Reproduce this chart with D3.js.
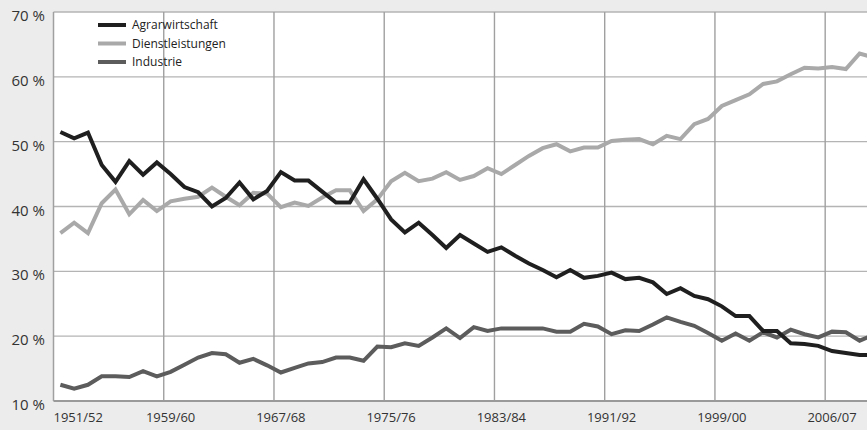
<!DOCTYPE html>
<html>
<head>
<meta charset="utf-8">
<script src="https://cdn.jsdelivr.net/npm/d3@7"></script>
<style>
  body { margin: 0; background: #ececec; }
  svg { display: block; font-family: "Open Sans", sans-serif; }
  .tick-y { font-size: 15px; fill: #333; }
  .tick-x { font-size: 13px; fill: #333; }
  .legend text { font-size: 12px; fill: #222; }
</style>
</head>
<body>
<svg id="chart"></svg>
<script>
// shares in percent, one value per year from 1951/52 on
var agrar = [51.5, 50.5, 51.4, 46.4, 43.8, 47.0, 44.9, 46.8, 45.0, 43.0,
             42.2, 40.0, 41.3, 43.7, 41.1, 42.4, 45.3, 44.0, 44.0, 42.3,
             40.6, 40.6, 44.2, 41.2, 38.0, 36.0, 37.5, 35.6, 33.6, 35.6,
             34.3, 33.0, 33.7, 32.4, 31.2, 30.2, 29.1, 30.2, 29.0, 29.3,
             29.8, 28.8, 29.0, 28.3, 26.5, 27.4, 26.2, 25.7, 24.6, 23.1,
             23.1, 20.8, 20.8, 18.9, 18.8, 18.5, 17.7, 17.4, 17.1, 17.1];
var dienst = [35.9, 37.5, 35.9, 40.5, 42.6, 38.8, 41.0, 39.3, 40.8, 41.2,
              41.5, 42.9, 41.5, 40.2, 42.1, 42.0, 39.9, 40.6, 40.1, 41.4,
              42.5, 42.5, 39.3, 41.1, 43.9, 45.2, 43.9, 44.3, 45.3, 44.1,
              44.7, 45.9, 45.0, 46.4, 47.8, 49.0, 49.6, 48.5, 49.1, 49.1,
              50.1, 50.3, 50.4, 49.6, 50.9, 50.4, 52.7, 53.5, 55.5, 56.4,
              57.3, 58.9, 59.3, 60.4, 61.4, 61.3, 61.5, 61.2, 63.6, 63.0];
var industrie = [12.5, 11.9, 12.5, 13.8, 13.8, 13.7, 14.6, 13.8, 14.5, 15.6,
                 16.7, 17.4, 17.2, 15.9, 16.5, 15.5, 14.4, 15.1, 15.8, 16.0,
                 16.7, 16.7, 16.2, 18.4, 18.3, 18.9, 18.5, 19.8, 21.2, 19.7,
                 21.4, 20.8, 21.2, 21.2, 21.2, 21.2, 20.7, 20.7, 21.9, 21.5,
                 20.3, 20.9, 20.8, 21.8, 22.9, 22.2, 21.6, 20.5, 19.3, 20.4,
                 19.3, 20.6, 19.8, 21.0, 20.3, 19.8, 20.7, 20.6, 19.3, 20.2];

var seriesNames = ['Agrarwirtschaft', 'Dienstleistungen', 'Industrie'];
var seriesColors = ['#1f1f1f', '#a9a9a9', '#5c5c5c'];
var tickLabels = ['1951/52', '1959/60', '1967/68', '1975/76', '1983/84', '1991/92', '1999/00', '2006/07'];
var tickEvery = 8;
var yTicks = [10, 20, 30, 40, 50, 60, 70];

var width = 867, height = 430;
var margin = {top: 12, left: 53.5, bottom: 29};
var step = 13.78;
var n = agrar.length;

var svg = d3.select('#chart').attr('width', width).attr('height', height);

svg.append('rect').attr('width', width).attr('height', height).attr('fill', '#ececec');

var x = d3.scaleBand()
    .domain(d3.range(n))
    .range([margin.left, margin.left + n * step])
    .padding(0);

var y = d3.scaleLinear()
    .domain([10, 70])
    .range([height - margin.bottom, margin.top]);

var plotRight = margin.left + n * step;

// white plot area
svg.append('rect')
    .attr('x', margin.left)
    .attr('y', y(70))
    .attr('width', plotRight - margin.left)
    .attr('height', y(10) - y(70))
    .attr('fill', '#fff');

// horizontal grid
svg.append('g').selectAll('line').data(yTicks.slice(1)).enter().append('line')
    .attr('x1', margin.left).attr('x2', plotRight)
    .attr('y1', function(d) { return y(d); })
    .attr('y2', function(d) { return y(d); })
    .attr('stroke', '#b4b4b4')
    .attr('stroke-width', 1.4);

// vertical grid at every 8th year
var tickIdx = d3.range(0, n, tickEvery).slice(0, tickLabels.length);
svg.append('g').selectAll('line').data(tickIdx.slice(1)).enter().append('line')
    .attr('x1', function(d) { return x(d); })
    .attr('x2', function(d) { return x(d); })
    .attr('y1', y(70)).attr('y2', y(10))
    .attr('stroke', '#a0a0a0')
    .attr('stroke-width', 1.4);

// left and bottom axis lines
svg.append('line')
    .attr('x1', margin.left).attr('x2', margin.left)
    .attr('y1', y(70)).attr('y2', y(10))
    .attr('stroke', '#a0a0a0').attr('stroke-width', 1.5);
svg.append('line')
    .attr('x1', margin.left).attr('x2', plotRight)
    .attr('y1', y(10)).attr('y2', y(10))
    .attr('stroke', '#9a9a9a').attr('stroke-width', 2);

// y labels
svg.append('g').selectAll('text').data(yTicks).enter().append('text')
    .attr('class', 'tick-y')
    .attr('x', 45)
    .attr('y', function(d) { return y(d) + 9; })
    .attr('text-anchor', 'end')
    .text(function(d) { return d + ' %'; });

// x labels
svg.append('g').selectAll('text').data(tickIdx).enter().append('text')
    .attr('class', 'tick-x')
    .attr('x', function(d, i) { return i === 0 ? margin.left : x(d) + x.bandwidth() / 2; })
    .attr('y', 422)
    .attr('text-anchor', function(d, i) { return i === 0 ? 'start' : 'middle'; })
    .text(function(d, i) { return tickLabels[i]; });

// lines
var line = d3.line()
    .x(function(d, i) { return x(i) + x.bandwidth() / 2; })
    .y(function(d) { return y(d); });

var allSeries = [agrar, dienst, industrie];
svg.append('g').selectAll('path').data([dienst, industrie, agrar]).enter().append('path')
    .attr('d', line)
    .attr('fill', 'none')
    .attr('stroke', function(d) { return seriesColors[allSeries.indexOf(d)]; })
    .attr('stroke-width', 4)
    .attr('stroke-linejoin', 'miter');

// legend
var legend = svg.append('g').attr('class', 'legend');
var items = legend.selectAll('g').data(seriesNames).enter().append('g')
    .attr('transform', function(d, i) { return 'translate(98,' + (25 + i * 18.5) + ')'; });
items.append('line')
    .attr('x1', 0).attr('x2', 28)
    .attr('stroke', function(d, i) { return seriesColors[i]; })
    .attr('stroke-width', 4);
items.append('text')
    .attr('x', 34).attr('y', 4)
    .text(function(d) { return d; });
</script>
</body>
</html>
